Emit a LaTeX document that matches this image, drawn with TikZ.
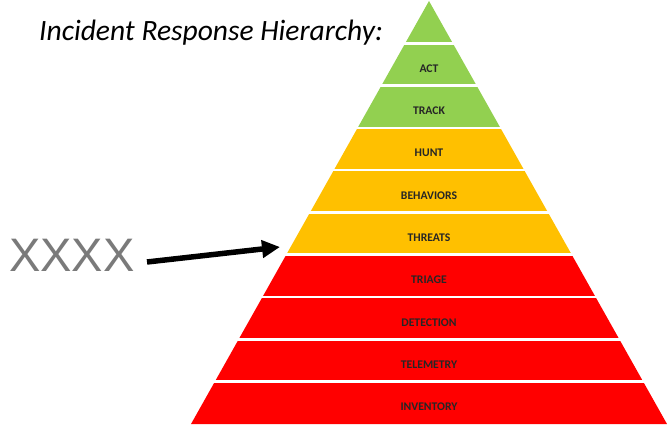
\documentclass[tikz,border=0pt]{standalone}
\usepackage{fontspec}
\setmainfont{Carlito}
\newfontfamily\xfont{Liberation Sans}
\usetikzlibrary{arrows.meta}
\definecolor{pgreen}{HTML}{92D050}
\definecolor{pyellow}{HTML}{FFC000}
\definecolor{pred}{HTML}{FF0000}
\begin{document}
\begin{tikzpicture}[x=1pt,y=-1pt,
  layerlabel/.style={font=\bfseries\fontsize{11.7}{13}\selectfont, text=black!85, inner sep=0pt},
  gapline/.style={white, line width=2.6pt}]
\useasboundingbox (0,0) rectangle (669,430);
\fill[white] (0,0) rectangle (669,430);
% layers
\foreach \k/\c in {0/pgreen,1/pgreen,2/pgreen,3/pyellow,4/pyellow,5/pyellow,6/pred,7/pred,8/pred,9/pred}{
  \pgfmathsetmacro\ya{1+\k*42.3}
  \pgfmathsetmacro\yb{1+(\k+1)*42.3}
  \pgfmathsetmacro\wa{(\ya-1)*0.5626}
  \pgfmathsetmacro\wb{(\yb-1)*0.5626}
  \fill[\c] ({429-\wa},\ya) -- ({429+\wa},\ya) -- ({429+\wb},\yb) -- ({429-\wb},\yb) -- cycle;
}
\foreach \k in {1,...,9}{
  \draw[gapline] (180,{1+\k*42.3}) -- (669,{1+\k*42.3});
}
% labels
\foreach \k/\t/\n in {1/ACT/act,2/TRACK/track,3/HUNT/hunt,4/BEHAVIORS/behaviors,5/THREATS/threats,6/TRIAGE/triage,7/DETECTION/detection,8/TELEMETRY/telemetry,9/INVENTORY/inventory}{
  \node[layerlabel] (\n) at (429,{1+(\k+0.5)*42.3+4}) {\t};
}
% title
\node[anchor=base west, font=\itshape\fontsize{29.5}{34}\selectfont, inner sep=0pt] (title) at (39,41) {Incident Response Hierarchy:};
% XXXX
\node[anchor=base west, font=\xfont\fontsize{47}{50}\selectfont, text=black!52, inner sep=0pt] (xx) at (9,272) {XXXX};
% arrow
\coordinate (astart) at (147,262);
\coordinate (aend) at (280,247);
\draw[line width=5.5pt, -{Triangle[length=18pt,width=17pt]}] (astart) -- (aend);
\end{tikzpicture}
\end{document}
